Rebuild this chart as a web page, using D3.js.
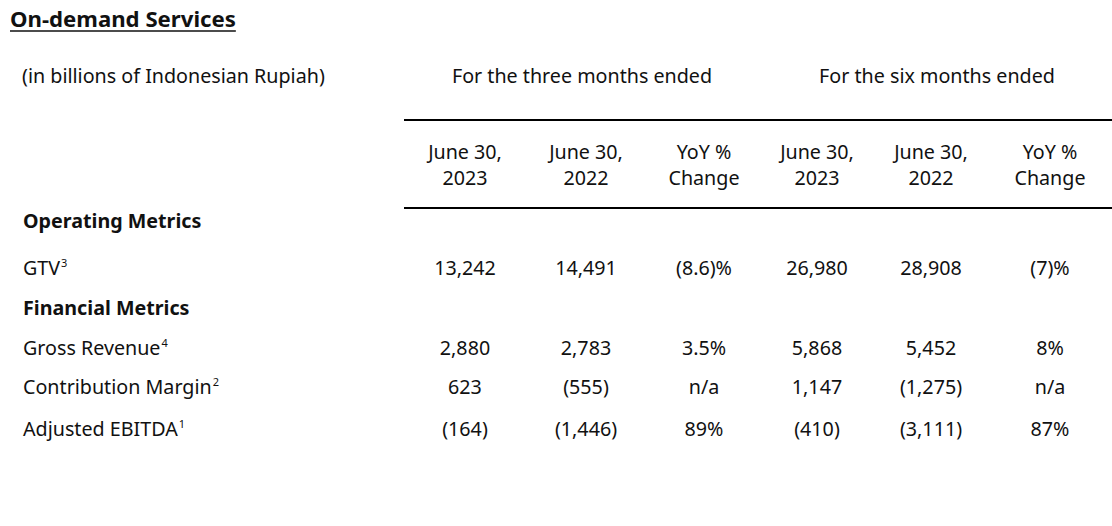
<!DOCTYPE html>
<html><head><meta charset="utf-8">
<script src="https://cdn.jsdelivr.net/npm/d3@7"></script>
<style>
html,body{margin:0;padding:0;background:#fff;}
svg{display:block;font-family:"Noto Sans",Lato,sans-serif;}
</style></head>
<body><svg id="c" width="1112" height="526"></svg>
<script>
const title = "On-demand Services";
const unitNote = "(in billions of Indonesian Rupiah)";
const periodGroups = ["For the three months ended", "For the six months ended"];
const columnKeys = ["q2023", "q2022", "qYoY", "h2023", "h2022", "hYoY"];
const columnHeaders = [["June 30,", "2023"], ["June 30,", "2022"], ["YoY %", "Change"],
                       ["June 30,", "2023"], ["June 30,", "2022"], ["YoY %", "Change"]];
const rowLabels = [
  {key: "op", label: "Operating Metrics", sup: "", section: true},
  {key: "gtv", label: "GTV", sup: "3", section: false},
  {key: "fin", label: "Financial Metrics", sup: "", section: true},
  {key: "rev", label: "Gross Revenue", sup: "4", section: false},
  {key: "cm", label: "Contribution Margin", sup: "2", section: false},
  {key: "ebitda", label: "Adjusted EBITDA", sup: "1", section: false}
];
const gtvValues = ["13,242", "14,491", "(8.6)%", "26,980", "28,908", "(7)%"];
const grossRevenueValues = ["2,880", "2,783", "3.5%", "5,868", "5,452", "8%"];
const contributionMarginValues = ["623", "(555)", "n/a", "1,147", "(1,275)", "n/a"];
const adjustedEbitdaValues = ["(164)", "(1,446)", "89%", "(410)", "(3,111)", "87%"];

const valuesByRow = {gtv: gtvValues, rev: grossRevenueValues, cm: contributionMarginValues, ebitda: adjustedEbitdaValues};

const svg = d3.select("#c");
const color = "#111";

// calibrate font sizes to the reference widths
const probe = svg.append("text").attr("font-size", 20).text(unitNote);
const fs = 20 * 303 / probe.node().getComputedTextLength();
probe.attr("font-weight", 700).text(title);
const tfs = 20 * 226 / probe.node().getComputedTextLength();
probe.remove();

const x = d3.scaleOrdinal().domain(columnKeys).range([465, 586, 704, 817, 931, 1050]);
const y = d3.scaleOrdinal().domain(rowLabels.map(r => r.key)).range([221, 268, 308, 348, 387, 429]);
const groupX = d3.scaleOrdinal().domain(periodGroups).range([582, 937]);

// Title
const t = svg.append("text").attr("x", 10).attr("y", 27)
  .attr("font-size", tfs).attr("font-weight", 700).attr("fill", color).text(title);
const tw = t.node().getComputedTextLength();
svg.append("line").attr("x1", 10).attr("x2", 10 + tw).attr("y1", 31).attr("y2", 31)
  .attr("stroke", color).attr("stroke-width", 1.6);

// Unit note
svg.append("text").attr("x", 22).attr("y", 76).attr("dy", "0.35em")
  .attr("font-size", fs).attr("fill", color).text(unitNote);

// Period group headers
svg.selectAll("text.grp").data(periodGroups).join("text").attr("class", "grp")
  .attr("x", d => groupX(d)).attr("y", 76).attr("dy", "0.35em")
  .attr("text-anchor", "middle").attr("font-size", fs).attr("fill", color).text(d => d);

// Rules
[120, 208].forEach(yy => svg.append("line").attr("x1", 404).attr("x2", 1112)
  .attr("y1", yy).attr("y2", yy).attr("stroke", "#000").attr("stroke-width", 2));

// Column headers
const hdr = svg.selectAll("text.hdr").data(columnKeys).join("text").attr("class", "hdr")
  .attr("text-anchor", "middle").attr("font-size", fs).attr("fill", color);
hdr.append("tspan").attr("x", d => x(d)).attr("y", 152).attr("dy", "0.35em")
  .text((d, i) => columnHeaders[i][0]);
hdr.append("tspan").attr("x", d => x(d)).attr("y", 178).attr("dy", "0.35em")
  .text((d, i) => columnHeaders[i][1]);

// Row labels
const rl = svg.selectAll("text.rl").data(rowLabels).join("text").attr("class", "rl")
  .attr("x", 23).attr("y", d => y(d.key)).attr("dy", "0.35em")
  .attr("font-size", fs).attr("font-weight", d => d.section ? 700 : 400).attr("fill", color);
rl.append("tspan").text(d => d.label);
rl.filter(d => d.sup).append("tspan").attr("font-size", 11).attr("dy", "-0.75em").attr("dx", 1).text(d => d.sup);

// Values
const dataRows = rowLabels.filter(r => valuesByRow[r.key]);
const rowsG = svg.selectAll("g.row").data(dataRows).join("g").attr("class", "row");
rowsG.selectAll("text").data(r => valuesByRow[r.key].map((v, i) => ({r: r.key, c: columnKeys[i], v})))
  .join("text").attr("x", d => x(d.c)).attr("y", d => y(d.r)).attr("dy", "0.35em")
  .attr("text-anchor", "middle").attr("font-size", fs).attr("fill", color).text(d => d.v);
</script></body></html>
